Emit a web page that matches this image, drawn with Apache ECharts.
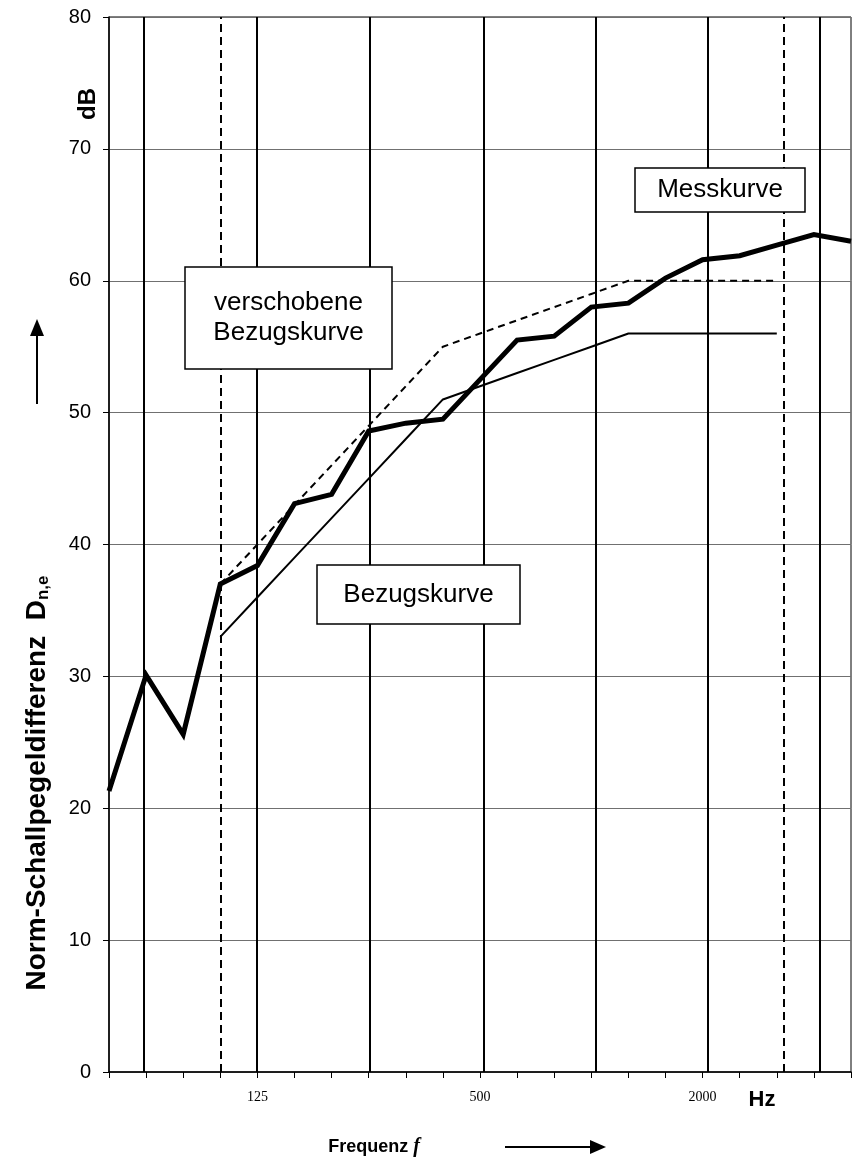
<!DOCTYPE html>
<html>
<head>
<meta charset="utf-8">
<script src="https://cdn.jsdelivr.net/npm/echarts@6/dist/echarts.min.js"></script>
<style>
html,body{margin:0;padding:0;background:#fff;}
#chart{width:854px;height:1159px;}
</style>
</head>
<body>
<div id="chart"></div>
<script>
// Third-octave band centre frequencies (Hz), x position = band index
var bands = [50,63,80,100,125,160,200,250,315,400,500,630,800,1000,1250,1600,2000,2500,3150,4000,5000];
// Measured curve (Messkurve), dB
var measured = [21.3,30.1,25.6,37.0,38.4,43.1,43.8,48.6,49.2,49.5,52.5,55.5,55.8,58.0,58.3,60.2,61.6,61.9,62.7,63.5,63.0];
// Reference curve (Bezugskurve) 100..3150 Hz
var refBands = [100,125,160,200,250,315,400,500,630,800,1000,1250,1600,2000,2500,3150];
var reference = [33,36,39,42,45,48,51,52,53,54,55,56,56,56,56,56];
// Shifted reference curve (verschobene Bezugskurve)
var shifted = [37,40,43,46,49,52,55,56,57,58,59,60,60,60,60,60];
// Tick labels on the frequency axis
var tickLabels = {125:'125', 500:'500', 2000:'2000'};
// Vertical marker lines (band-index positions as drawn)
var solidLines = [0.94, 3.98, 7.03, 10.09, 13.13, 16.15, 19.17];
var dashedLines = [3.01, 18.2];

function idx(f){ return bands.indexOf(f); }

var measData = measured.map(function(v,i){ return [i, v]; });
var refData = reference.map(function(v,i){ return [idx(refBands[i]), v]; });
var shiftData = shifted.map(function(v,i){ return [idx(refBands[i]), v]; });

var chart = echarts.init(document.getElementById('chart'));

function box(x,y,w,h,lines){
  var children = [{type:'rect', z:100, shape:{x:0,y:0,width:w,height:h}, style:{fill:'#fff', stroke:'#000', lineWidth:1.5}}];
  var n = lines.length, lh = 30;
  lines.forEach(function(t,k){
    children.push({type:'text', z:101, x:w/2, y:h/2 + (k-(n-1)/2)*lh,
      style:{text:t, font:'26px "Liberation Sans", Arial, sans-serif', fill:'#000', textAlign:'center', textVerticalAlign:'middle'}});
  });
  return {type:'group', x:x, y:y, z:100, children:children};
}

var option = {
  animation:false,
  backgroundColor:'#fff',
  grid:{left:109, right:3, top:17, bottom:87, show:true, borderColor:'#000', borderWidth:1},
  xAxis:{
    type:'value', min:0, max:bands.length-1, interval:1,
    axisLine:{onZero:false, lineStyle:{color:'#000', width:1.5}},
    axisTick:{show:true, length:6, lineStyle:{color:'#000', width:1}},
    splitLine:{show:false},
    axisLabel:{
      margin:18, color:'#000', fontSize:14, fontFamily:'"Liberation Serif", "Times New Roman", serif',
      formatter:function(v){ var f = bands[Math.round(v)]; return tickLabels[f] || ''; }
    }
  },
  yAxis:{
    type:'value', min:0, max:80, interval:10,
    axisLine:{show:true, lineStyle:{color:'#000', width:1.5}},
    axisTick:{show:true, length:6, lineStyle:{color:'#000'}},
    splitLine:{show:true, lineStyle:{color:'#707070', width:1}},
    axisLabel:{margin:18, color:'#000', fontSize:20, fontFamily:'"Liberation Sans", Arial, sans-serif'}
  },
  series:[
    {
      type:'line', data:[], silent:true,
      markLine:{
        silent:true, symbol:['none','none'], label:{show:false},
        data: solidLines.map(function(p){ return {xAxis:p, lineStyle:{color:'#000', width:2, type:'solid'}}; })
          .concat(dashedLines.map(function(p){ return {xAxis:p, lineStyle:{color:'#000', width:2, type:[8,5]}}; }))
      }
    },
    {type:'line', name:'Bezugskurve', data:refData, symbol:'none', lineStyle:{color:'#000', width:2}, z:3},
    {type:'line', name:'verschobene Bezugskurve', data:shiftData, symbol:'none', lineStyle:{color:'#000', width:2, type:[7,5]}, z:3},
    {type:'line', name:'Messkurve', data:measData, symbol:'none', lineStyle:{color:'#000', width:5, join:'miter'}, z:4}
  ],
  graphic:[
    box(635,168,170,44,['Messkurve']),
    box(185,267,207,102,['verschobene','Bezugskurve']),
    box(317,565,203,59,['Bezugskurve']),
    {type:'text', x:37, y:783, rotation:Math.PI/2, z:50,
      style:{rich:{b:{font:'bold 28px "Liberation Sans", Arial, sans-serif', fill:'#000'},
                   s:{font:'bold 17px "Liberation Sans", Arial, sans-serif', fill:'#000', verticalAlign:'bottom', padding:[12,0,0,0]}},
             text:'{b|Norm-Schallpegeldifferenz  D}{s|n,e}', textAlign:'center', textVerticalAlign:'middle'}},
    {type:'line', z:50, shape:{x1:37, y1:404, x2:37, y2:334}, style:{stroke:'#000', lineWidth:2}},
    {type:'polygon', z:50, shape:{points:[[30,336],[44,336],[37,319]]}, style:{fill:'#000'}},
    {type:'text', x:88, y:104, rotation:Math.PI/2, z:50,
      style:{text:'dB', font:'bold 24px "Liberation Sans", Arial, sans-serif', fill:'#000', textAlign:'center', textVerticalAlign:'middle'}},
    {type:'text', x:762, y:1100, z:50,
      style:{text:'Hz', font:'bold 22px "Liberation Sans", Arial, sans-serif', fill:'#000', textAlign:'center', textVerticalAlign:'middle'}},
    {type:'text', x:374, y:1147, z:50,
      style:{rich:{a:{font:'bold 18px "Liberation Sans", Arial, sans-serif', fill:'#000'},
                   f:{font:'italic bold 20px "Liberation Serif", "Times New Roman", serif', fill:'#000'}},
             text:'{a|Frequenz }{f|f}', textAlign:'center', textVerticalAlign:'middle'}},
    {type:'line', z:50, shape:{x1:505, y1:1147, x2:592, y2:1147}, style:{stroke:'#000', lineWidth:2}},
    {type:'polygon', z:50, shape:{points:[[590,1140],[590,1154],[606,1147]]}, style:{fill:'#000'}}
  ]
};
chart.setOption(option);
</script>
</body>
</html>
